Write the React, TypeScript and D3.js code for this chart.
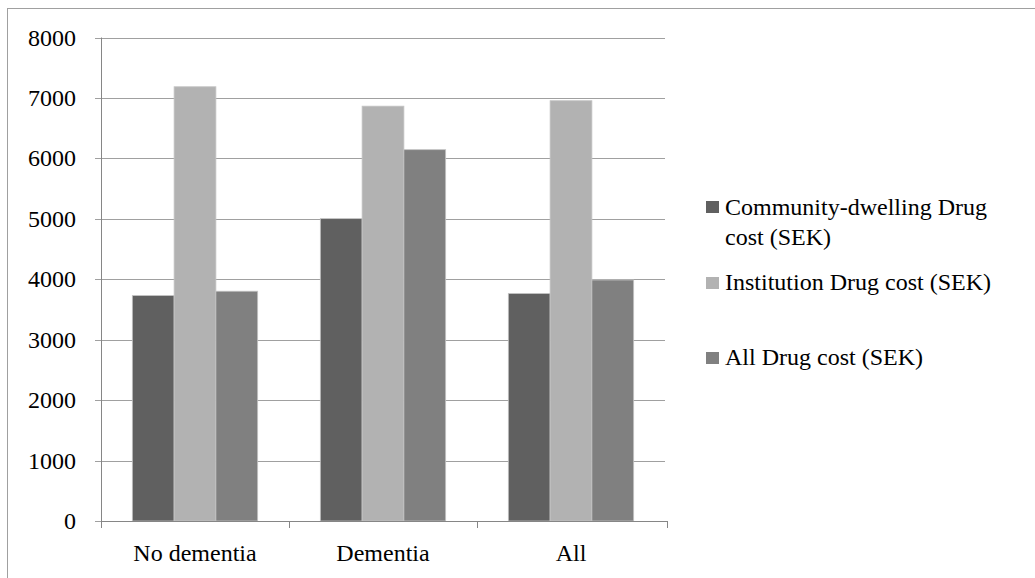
import React from "react";
import * as d3 from "d3";

// Mean drug cost per person, by group
const categories = ["No dementia", "Dementia", "All"];
const seriesNames = [
  ["Community-dwelling Drug", "cost (SEK)"],
  ["Institution Drug cost (SEK)"],
  ["All Drug cost (SEK)"],
];
const communityCost = [3730, 5003, 3764];
const institutionCost = [7185, 6864, 6954];
const allCost = [3802, 6144, 3988];
const yTicks = [0, 1000, 2000, 3000, 4000, 5000, 6000, 7000, 8000];

const seriesValues = [communityCost, institutionCost, allCost];
const seriesColors = ["#606060", "#b2b2b2", "#808080"];

const W = 1035;
const H = 578;
const plot = { left: 101, right: 665, top: 37.5, bottom: 521 };
const FONT = '"Liberation Serif", "DejaVu Serif", serif';
const FS = 24;

export default function App() {
  const x = d3
    .scaleBand<string>()
    .domain(categories)
    .range([plot.left, plot.right])
    .paddingInner(0)
    .paddingOuter(0);
  const y = d3.scaleLinear().domain([0, 8000]).range([plot.bottom, plot.top]);

  // 50% gap width: three bars plus half a bar of gap on each side
  const barW = x.bandwidth() / 4.5;
  const groupOffset = (x.bandwidth() - barW * 3) / 2;

  const legendRows = [
    { square: 201, lines: [215, 245] },
    { square: 277, lines: [290] },
    { square: 352, lines: [365] },
  ];

  return (
    <svg
      width={W}
      height={H}
      style={{ position: "fixed", left: 0, top: 0, background: "#fff" }}
    >
      <rect x={0} y={0} width={W} height={H} fill="#fff" />
      {/* outer chart-area border */}
      <rect x={7.5} y={8.5} width={W + 20} height={H + 20} fill="none" stroke="#a0a0a0" strokeWidth={1} />

      {/* horizontal gridlines */}
      {yTicks.map((t) => (
        <line
          key={"g" + t}
          x1={plot.left - 6}
          x2={plot.right}
          y1={Math.round(y(t)) + 0.5}
          y2={Math.round(y(t)) + 0.5}
          stroke="#a0a0a0"
          strokeWidth={1}
        />
      ))}

      {/* bars */}
      {categories.map((c, ci) =>
        seriesValues.map((vals, si) => {
          const bx = (x(c) as number) + groupOffset + si * barW;
          return (
            <rect
              key={c + si}
              x={bx}
              y={y(vals[ci])}
              width={barW}
              height={y(0) - y(vals[ci])}
              fill={seriesColors[si]}
              stroke="#c4c4c4"
              strokeWidth={0.8}
            />
          );
        })
      )}

      {/* axes */}
      <line x1={plot.left + 0.5} x2={plot.left + 0.5} y1={plot.top} y2={plot.bottom + 0.5} stroke="#868686" />
      <line x1={plot.left} x2={plot.right + 2} y1={plot.bottom + 0.5} y2={plot.bottom + 0.5} stroke="#868686" />
      {[...categories.map((c) => x(c) as number), plot.right + 2].map((px, i) => (
        <line
          key={"xt" + i}
          x1={Math.round(px) + 0.5}
          x2={Math.round(px) + 0.5}
          y1={plot.bottom}
          y2={plot.bottom + 7}
          stroke="#868686"
        />
      ))}

      <g fontFamily={FONT} fontSize={FS} fill="#000">
        {/* y tick labels */}
        {yTicks.map((t) => (
          <text key={"yl" + t} x={76} y={y(t) + 8} textAnchor="end" fontFamily={FONT}>
            {t}
          </text>
        ))}

        {/* category labels */}
        {categories.map((c) => (
          <text
            key={"xl" + c}
            x={(x(c) as number) + x.bandwidth() / 2}
            y={561}
            textAnchor="middle"
            fontFamily={FONT}
          >
            {c}
          </text>
        ))}

        {/* legend */}
        {legendRows.map((r, i) => (
          <g key={"lg" + i}>
            <rect x={706} y={r.square} width={13} height={12} fill={seriesColors[i]} />
            {seriesNames[i].map((ln, li) => (
              <text key={li} x={725} y={r.lines[li]} fontFamily={FONT}>
                {ln}
              </text>
            ))}
          </g>
        ))}
      </g>
    </svg>
  );
}
